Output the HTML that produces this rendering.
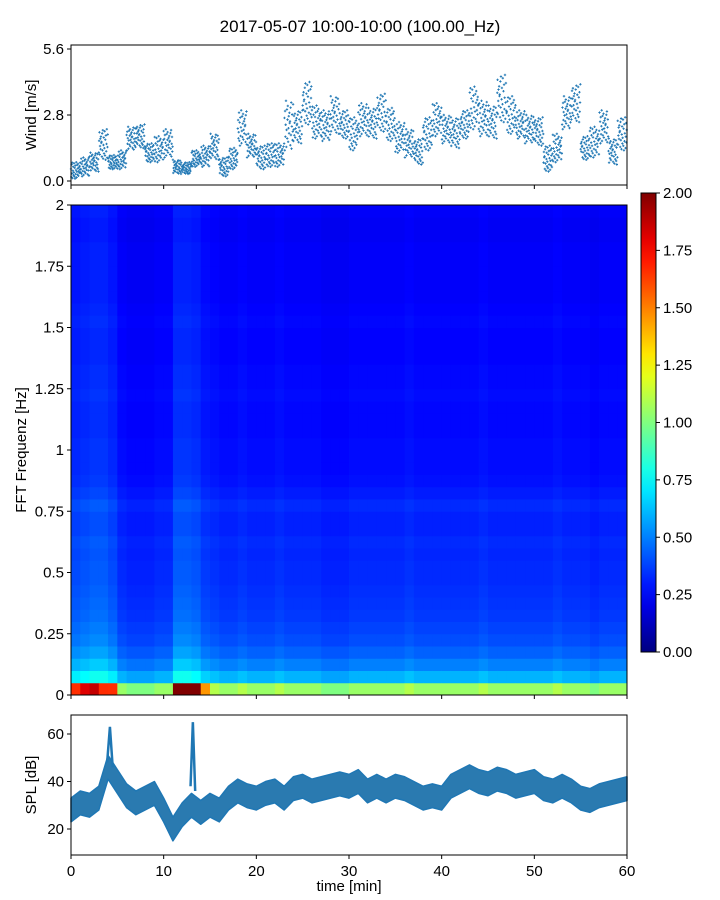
<!DOCTYPE html>
<html><head><meta charset="utf-8">
<style>
html,body{margin:0;padding:0;background:#fff;}
svg{display:block;font-family:"Liberation Sans",sans-serif;}
</style></head>
<body>
<svg id="chart" width="720" height="900" viewBox="0 0 720 900">
<text x="360" y="32" text-anchor="middle" font-size="17">2017-05-07 10:00-10:00 (100.00_Hz)</text>
</svg>
<script>
// ---------- data ----------
const windMinutes = [0,1,2,3,4,5,6,7,8,9,10,11,12,13,14,15,16,17,18,19,20,21,22,23,24,25,26,27,28,29,30,31,32,33,34,35,36,37,38,39,40,41,42,43,44,45,46,47,48,49,50,51,52,53,54,55,56,57,58,59];
const windLo = [0.1,0.2,0.4,0.9,0.5,0.5,1.3,1.4,0.8,0.8,1.0,0.3,0.3,0.6,0.6,0.9,0.2,0.5,1.5,1.0,0.5,0.6,0.6,1.3,1.6,2.4,1.8,1.7,2.0,1.8,1.3,1.9,1.8,2.1,1.7,1.2,1.0,0.7,1.3,1.9,1.6,1.4,1.8,2.2,1.9,1.8,2.5,2.0,1.8,1.6,1.5,0.4,0.8,2.2,2.5,0.9,1.0,1.6,0.7,1.3];
const windHi = [0.8,1.0,1.2,2.2,1.1,1.3,2.3,2.4,1.6,1.9,2.2,0.9,0.8,1.3,1.5,2.0,1.0,1.4,3.0,2.0,1.5,1.6,1.6,3.4,3.0,4.2,3.2,3.0,3.6,3.0,2.7,3.3,3.1,3.7,3.1,2.5,2.2,1.8,2.7,3.3,2.8,2.7,3.0,4.0,3.4,3.2,4.5,3.6,3.0,2.8,2.7,1.5,2.0,3.6,4.1,1.9,2.3,3.0,1.8,2.7];
const windTicks = [0.0,2.8,5.6];

const specTimes = windMinutes;
const specLevel = [1.2,1.25,1.3,1.3,1.2,1.0,0.95,0.95,0.95,1.0,1.0,1.3,1.3,1.25,1.1,1.05,1.0,1.0,1.05,1.0,1.0,1.0,1.05,1.0,1.0,1.0,1.0,0.95,0.95,0.95,1.0,1.0,1.0,1.0,1.0,1.0,1.05,1.0,1.0,1.0,1.0,1.0,1.0,1.0,1.05,1.0,1.0,1.0,1.0,1.0,1.0,1.0,1.05,1.0,1.0,1.0,0.95,1.0,1.0,1.0];
const freqBins = [0,0.05,0.1,0.15,0.2,0.25,0.3,0.35,0.4,0.45,0.5,0.55,0.6,0.65,0.7,0.75,0.8,0.85,0.9,0.95,1.0,1.05,1.1,1.15,1.2,1.25,1.3,1.35,1.4,1.45,1.5,1.55,1.6,1.65,1.7,1.75,1.8,1.85,1.9,1.95];
const freqProfile = [1.05,0.6,0.5,0.44,0.4,0.38,0.36,0.35,0.34,0.33,0.33,0.32,0.33,0.31,0.31,0.33,0.3,0.28,0.27,0.27,0.27,0.26,0.26,0.26,0.27,0.26,0.26,0.25,0.25,0.25,0.26,0.25,0.24,0.24,0.24,0.24,0.24,0.23,0.23,0.24];
const lowBandBoost = [0.4,0.5,0.5,0.3,0.4,0,0,0,0,0,0,1.4,1.4,1.4,0.3,0,0,0,0,0,0,0,0,0,0,0,0,0,0,0,0,0,0,0,0,0,0,0,0,0,0,0,0,0,0,0,0,0,0,0,0,0,0,0,0,0,0,0,0,0];
const freqTicks = [0,0.25,0.5,0.75,1,1.25,1.5,1.75,2];
const freqTickLabels = ["0","0.25","0.5","0.75","1","1.25","1.5","1.75","2"];
const cbarTicks = [0,0.25,0.5,0.75,1,1.25,1.5,1.75,2];
const cbarTickLabels = ["0.00","0.25","0.50","0.75","1.00","1.25","1.50","1.75","2.00"];

const splTimes = [0,1,2,3,4,5,6,7,8,9,10,11,12,13,14,15,16,17,18,19,20,21,22,23,24,25,26,27,28,29,30,31,32,33,34,35,36,37,38,39,40,41,42,43,44,45,46,47,48,49,50,51,52,53,54,55,56,57,58,59,60];
const splMid = [28,31,30,33,46,40,34,31,33,35,28,20,26,30,27,30,28,33,36,34,33,35,36,33,37,38,36,37,38,39,38,40,36,38,36,38,37,35,33,34,33,38,40,42,40,39,41,40,38,39,40,37,36,38,36,33,32,34,35,36,37];
const splSpikeT = [3.9,4.2,4.5,12.9,13.15,13.4];
const splSpikeV = [48,63,46,38,65,36];
const splTicks = [20,40,60];
const timeTicks = [0,10,20,30,40,50,60];

// ---------- helpers ----------
const NS="http://www.w3.org/2000/svg";
const svgRoot=document.getElementById('chart');
function mk(tag,attrs,parent){const e=document.createElementNS(NS,tag);for(const k in attrs)e.setAttribute(k,attrs[k]);(parent||svgRoot).appendChild(e);return e;}
function jet(v){v=Math.max(0,Math.min(1,v));
 const r=Math.max(0,Math.min(1,1.5-Math.abs(4*v-3)));
 const g=Math.max(0,Math.min(1,1.5-Math.abs(4*v-2)));
 const b=Math.max(0,Math.min(1,1.5-Math.abs(4*v-1)));
 return `rgb(${Math.round(r*255)},${Math.round(g*255)},${Math.round(b*255)})`;}

const X0=71,X1=627;
const xT=t=>X0+(t/60)*(X1-X0);
// marker spread order within each minute (layout only)
const spreadOrder=[17,3,25,9,28,1,14,21,6,11,27,4,19,0,23,8,15,29,2,12,24,7,18,26,5,13,20,10,22,16];

// ---------- wind panel ----------
const WP={y0:45,y1:185};
const yW=v=>181-(v/2.8)*66;
const gw=mk('g',{});


for(let i=0;i<windMinutes.length;i++){
  const n=spreadOrder.length;
  for(let k=0;k<n;k++){
    const t=windMinutes[i]+k/n;
    const f=spreadOrder[(k+i*7)%n]/(n-1);
    const v=windLo[i]+(windHi[i]-windLo[i])*f;
    const x=xT(t),y=yW(v);
    const p=mk('path',{d:`M${x-1.2},${y}h2.4M${x},${y-1.2}v2.4`,stroke:'#1f77b4','stroke-width':0.9},gw);
    
    
  }
}
const wf=mk('rect',{x:X0,y:WP.y0,width:X1-X0,height:WP.y1-WP.y0,fill:'none',stroke:'#000','stroke-width':1});


windTicks.forEach(v=>{const y=yW(v);mk('line',{x1:X0-4,x2:X0,y1:y,y2:y,stroke:'#000'});
 const t=mk('text',{x:X0-7,y:y+5,'text-anchor':'end','font-size':15});t.textContent=v.toFixed(1);
 
 });
timeTicks.forEach(v=>{mk('line',{x1:xT(v),x2:xT(v),y1:WP.y1,y2:WP.y1+4,stroke:'#000'});});
{const t=mk('text',{x:36,y:115,'text-anchor':'middle','font-size':15,transform:'rotate(-90 36 115)'});t.textContent='Wind [m/s]';
 
 }

// ---------- spectrogram ----------
const SP={y0:205,y1:695};
const yF=f=>SP.y1-(f/2)*(SP.y1-SP.y0);
const gs=mk('g',{});


for(let i=0;i<specTimes.length;i++){
  for(let j=0;j<freqBins.length;j++){
    let v=freqProfile[j]*specLevel[i];
    if(j===0)v+=lowBandBoost[i];
    const x=xT(specTimes[i]),x2=xT(specTimes[i]+1);
    const y=yF(freqBins[j]+0.05),y2=yF(freqBins[j]);
    const r=mk('rect',{x:x,y:y,width:x2-x+0.5,height:y2-y+0.5,fill:jet(v/2)},gs);
    
    
  }
}
const sf=mk('rect',{x:X0,y:SP.y0,width:X1-X0,height:SP.y1-SP.y0,fill:'none',stroke:'#000'});


freqTicks.forEach((v,i)=>{const y=yF(v);mk('line',{x1:X0-4,x2:X0,y1:y,y2:y,stroke:'#000'});
 const t=mk('text',{x:X0-7,y:y+5,'text-anchor':'end','font-size':15});t.textContent=freqTickLabels[i];
 
 });
timeTicks.forEach(v=>{mk('line',{x1:xT(v),x2:xT(v),y1:SP.y1,y2:SP.y1+4,stroke:'#000'});});
{const t=mk('text',{x:26,y:450,'text-anchor':'middle','font-size':15,transform:'rotate(-90 26 450)'});t.textContent='FFT Frequenz [Hz]';
 
 }

// colorbar
const CB={x:641,w:15,y0:193,y1:652};
const defs=mk('defs',{});
const lg=mk('linearGradient',{id:'jetg',x1:0,y1:1,x2:0,y2:0},defs);
for(let k=0;k<=20;k++)mk('stop',{offset:(k/20),'stop-color':jet(k/20)},lg);
const cb=mk('rect',{x:CB.x,y:CB.y0,width:CB.w,height:CB.y1-CB.y0,fill:'url(#jetg)',stroke:'#000'});


cbarTicks.forEach((v,i)=>{const y=CB.y1-(v/2)*(CB.y1-CB.y0);mk('line',{x1:CB.x+CB.w,x2:CB.x+CB.w+4,y1:y,y2:y,stroke:'#000'});
 const t=mk('text',{x:CB.x+CB.w+7,y:y+5,'font-size':15});t.textContent=cbarTickLabels[i];
 
 });

// ---------- SPL panel ----------
const PP={y0:715,y1:855};
const yS=v=>829-((v-20)/20)*47.5;
const gp=mk('g',{});


let topPath='',botPath='';
splTimes.forEach((t,i)=>{topPath+=(i?'L':'M')+xT(t)+','+yS(splMid[i]+5);});
for(let i=splTimes.length-1;i>=0;i--)botPath+='L'+xT(splTimes[i])+','+yS(splMid[i]-5);
const band=mk('path',{d:topPath+botPath+'Z',fill:'#2a7ab0',stroke:'#1f77b4','stroke-width':1.5,'stroke-linejoin':'round'},gp);


for(let k=0;k<splSpikeT.length;k+=3){
  let d=`M${xT(splSpikeT[k])},${yS(splSpikeV[k])}L${xT(splSpikeT[k+1])},${yS(splSpikeV[k+1])}L${xT(splSpikeT[k+2])},${yS(splSpikeV[k+2])}`;
  const s=mk('path',{d:d,fill:'none',stroke:'#1f77b4','stroke-width':2.5},gp);
  
  
}
const pf=mk('rect',{x:X0,y:PP.y0,width:X1-X0,height:PP.y1-PP.y0,fill:'none',stroke:'#000'});


splTicks.forEach(v=>{const y=yS(v);mk('line',{x1:X0-4,x2:X0,y1:y,y2:y,stroke:'#000'});
 const t=mk('text',{x:X0-7,y:y+5,'text-anchor':'end','font-size':15});t.textContent=v;
 
 });
timeTicks.forEach(v=>{mk('line',{x1:xT(v),x2:xT(v),y1:PP.y1,y2:PP.y1+4,stroke:'#000'});
 const t=mk('text',{x:xT(v),y:PP.y1+21,'text-anchor':'middle','font-size':15});t.textContent=v;
 
 });
{const t=mk('text',{x:36,y:785,'text-anchor':'middle','font-size':15,transform:'rotate(-90 36 785)'});t.textContent='SPL [dB]';
 
 }
{const t=mk('text',{x:349,y:891,'text-anchor':'middle','font-size':15});t.textContent='time [min]';
 
 }
</script>
</body></html>
